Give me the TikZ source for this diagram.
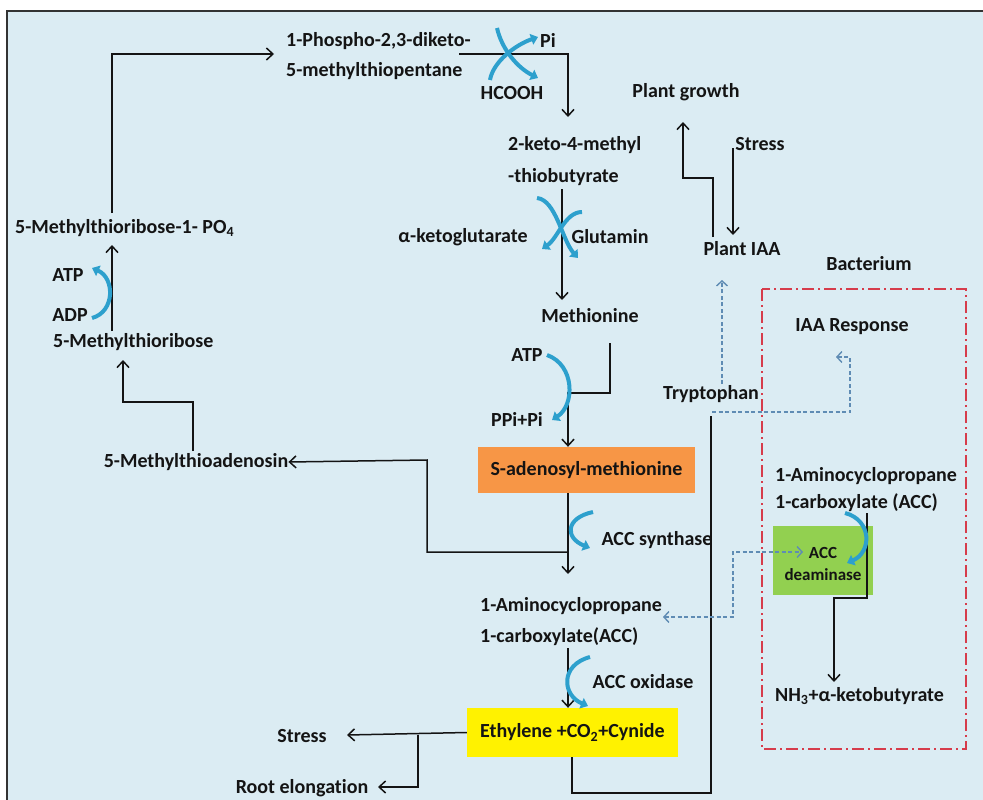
\documentclass[tikz,border=0pt]{standalone}
\usepackage{fontspec}
\setmainfont{Carlito}[Ligatures=NoCommon]
\usetikzlibrary{arrows.meta}
\definecolor{bg}{RGB}{219,236,243}
\definecolor{bluec}{RGB}{45,160,205}
\definecolor{dashb}{RGB}{95,140,180}
\definecolor{redb}{RGB}{214,60,75}
\definecolor{orangeb}{RGB}{247,150,70}
\definecolor{greenb}{RGB}{146,208,80}
\definecolor{ink}{RGB}{20,20,20}
\tikzset{
  lbl/.style={font=\fontsize{20}{24}\selectfont\bfseries, inner sep=0pt, text=ink},
  small/.style={font=\fontsize{17}{22}\selectfont\bfseries, inner sep=0pt, text=ink, align=center},
  arr/.style={draw=ink, line width=1.5pt, -{Straight Barb[length=6.5pt,width=12pt]}},
  plain/.style={draw=ink, line width=1.5pt},
  blu/.style={draw=bluec, line width=4pt, -{Triangle[length=7pt,width=11pt]}},
  dsh/.style={draw=dashb, line width=1.4pt, dash pattern=on 4pt off 2.5pt},
  dtip/.style={-{Straight Barb[length=5pt,width=11pt]}},
  dboth/.style={{Straight Barb[length=5pt,width=11pt]}-{Straight Barb[length=5pt,width=11pt]}},
}
\begin{document}
\begin{tikzpicture}[x=1pt,y=-1pt]
\useasboundingbox (0,0) rectangle (983,800);
\fill[white] (0,0) rectangle (983,800);
\fill[bg] (7,11) rectangle (983,800);
\draw[line width=1.5pt, black!80] (7,800) -- (7,11) -- (983,11);

% red bacterium box
\draw[redb, line width=2pt, dash pattern=on 12pt off 4pt on 2pt off 4pt] (762,289) rectangle (966,749);

% coloured boxes
\node[lbl, fill=orangeb, minimum width=217pt, minimum height=46pt] (sam) at (586.5,470) {S-adenosyl-methionine};
\node[lbl, fill=yellow, minimum width=211pt, minimum height=49pt] (eth) at (572.5,732.5) {Ethylene +CO\textsubscript{2}+Cynide};
\node[fill=greenb, minimum width=100pt, minimum height=69pt, inner sep=0pt] (deambox) at (823,560.5) {};
\node[small] (deam) at (823,564) {ACC\\deaminase};

% text labels
\node[lbl, anchor=west] (phos1) at (286,41) {1-Phospho-2,3-diketo-};
\node[lbl, anchor=west] (phos2) at (286,71) {5-methylthiopentane};
\node[lbl] (pi) at (548,40) {Pi};
\node[lbl] (hcooh) at (512,93) {HCOOH};
\node[lbl, anchor=west] (keto1) at (508,145) {2-keto-4-methyl};
\node[lbl, anchor=west] (keto2) at (508,177) {-thiobutyrate};
\node[lbl] (aketo) at (463,237) {α-ketoglutarate};
\node[lbl] (glut) at (610,237) {Glutamin};
\node[lbl] (met) at (590,316) {Methionine};
\node[lbl] (atp2) at (527,355) {ATP};
\node[lbl] (ppi) at (517,419) {PPi+Pi};
\node[lbl] (accsyn) at (657,540) {ACC synthase};
\node[lbl, anchor=west] (acc1) at (480,606) {1-Aminocyclopropane};
\node[lbl, anchor=west] (acc2) at (480,637) {1-carboxylate(ACC)};
\node[lbl] (accox) at (643,682) {ACC oxidase};
\node[lbl] (stress2) at (302,736) {Stress};
\node[lbl] (root) at (302,788) {Root elongation};
\node[lbl] (mta) at (196,462) {5-Methylthioadenosin};
\node[lbl, anchor=west] (mtr) at (53,342) {5-Methylthioribose};
\node[lbl] (adp) at (70,315) {ADP};
\node[lbl] (atp1) at (68,275) {ATP};
\node[lbl, anchor=west] (mtr1p) at (15,228) {5-Methylthioribose-1- PO\textsubscript{4}};
\node[lbl] (pgrowth) at (686,92) {Plant growth};
\node[lbl] (stress1) at (760,144) {Stress};
\node[lbl] (piaa) at (742,249) {Plant IAA};
\node[lbl] (bact) at (869,264) {Bacterium};
\node[lbl] (iaar) at (852,327) {IAA Response};
\node[lbl] (trp) at (711,394) {Tryptophan};
\node[lbl, anchor=west] (bacc1) at (775,476) {1-Aminocyclopropane};
\node[lbl, anchor=west] (bacc2) at (775,503) {1-carboxylate (ACC)};
\node[lbl, anchor=west] (nh3) at (775,696) {NH\textsubscript{3}+α-ketobutyrate};

% black connectors
\draw[arr] (112,213) -- (112,54) -- (274,54);
\draw[arr] (459,54) -- (568,54) -- (568,117);
\draw[arr] (562,189) -- (562,300);
\draw[arr] (610,343) -- (610,393) -- (568,393) -- (sam.north -| 568,0);
\draw[arr] (sam.south -| 568,0) -- (568,574);
\draw[arr] (568,552) -- (427,552) -- (427,460) -- (mta.east);
\draw[arr] (193,451) -- (193,402) -- (123,402) -- (123,360);
\draw[arr] (112,331) -- (112,245);
\draw[arr] (568,648) -- (eth.north -| 568,0);
\draw[arr] (eth.west) -- (347,735);
\draw[arr] (418,735) -- (418,787) -- (378,787);
\draw[plain] (eth.south -| 572,0) -- (572,793) -- (711,793) -- (711,416);
\draw[arr] (713,237) -- (713,178) -- (683,178) -- (683,122);
\draw[arr] (733,148) -- (733,235);
\draw[arr] (867,513) -- (867,598) -- (834,598) -- (834,682);

% dashed blue connectors
\draw[dsh, dtip] (722,384) -- (722,280);
\draw[dsh, dtip] (712,412) -- (850,412) -- (850,357) -- (836,357);
\draw[dsh, dboth] (663,617) -- (733,617) -- (733,552) -- (803,552);

% blue cofactor arrows
\draw[blu] (497,28) .. controls (502,50) and (518,68) .. (538,78);
\draw[blu] (490,80) .. controls (493,62) and (515,45) .. (538,37);
\draw[blu] (537,198) .. controls (556,200) and (562,240) .. (578,258);
\draw[blu] (582,212) .. controls (565,212) and (558,238) .. (542,249);
\draw[blu] (547,355) .. controls (575,365) and (575,405) .. (552,420);
\draw[blu] (92,318) .. controls (115,312) and (115,278) .. (92,268);
\draw[blu] (593,512) .. controls (565,518) and (565,538) .. (590,548);
\draw[blu] (590,657) .. controls (560,665) and (562,695) .. (588,706);
\draw[blu] (845,513) .. controls (872,520) and (872,552) .. (847,563);
\end{tikzpicture}
\end{document}
